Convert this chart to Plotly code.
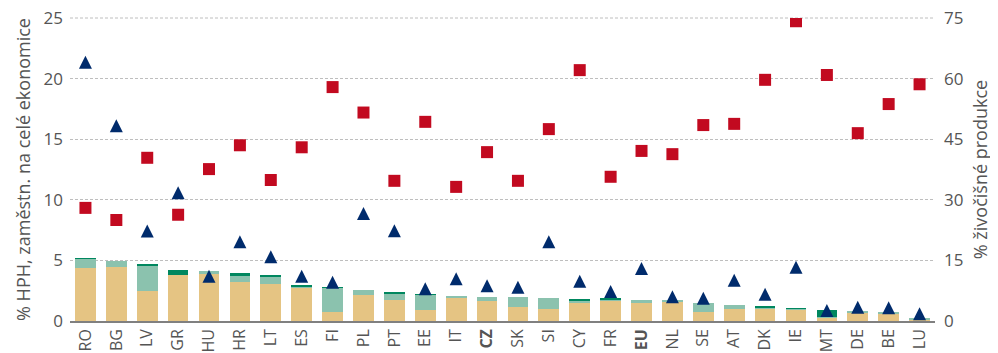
import plotly.graph_objects as go

categories = ["RO","BG","LV","GR","HU","HR","LT","ES","FI","PL","PT","EE","IT","CZ",
              "SK","SI","CY","FR","EU","NL","SE","AT","DK","IE","MT","DE","BE","LU"]
tick_labels = [f"<b>{c}</b>" if c in ("CZ", "EU") else c for c in categories]

bar_tan = [4.37,4.48,2.50,3.76,3.85,3.24,3.05,2.77,0.74,2.17,1.76,0.93,1.87,1.68,
           1.18,0.96,1.54,1.65,1.51,1.60,0.74,0.96,1.04,0.94,0.27,0.69,0.63,0.16]
bar_teal = [0.75,0.50,2.00,0.00,0.25,0.50,0.63,0.08,2.00,0.36,0.49,1.22,0.22,0.32,
            0.82,0.96,0.14,0.16,0.25,0.08,0.71,0.39,0.08,0.08,0.08,0.08,0.08,0.05]
bar_green = [0.06,0.00,0.20,0.42,0.00,0.22,0.08,0.14,0.03,0.00,0.17,0.05,0.00,0.00,
             0.00,0.00,0.10,0.03,0.00,0.00,0.00,0.00,0.08,0.03,0.58,0.00,0.00,0.00]
triangles = [21.34,16.12,7.42,10.58,3.70,6.53,5.30,3.70,3.20,8.86,7.45,2.67,3.49,2.91,
             2.78,6.54,3.27,2.44,4.34,2.00,1.87,3.36,2.20,4.43,0.87,1.13,1.10,0.60]
squares = [28.0,25.0,40.4,26.3,37.6,43.5,34.9,43.0,57.9,51.6,34.7,49.3,33.2,41.8,
           34.7,47.5,62.1,35.7,42.1,41.3,48.5,48.8,59.7,74.2,60.9,46.5,53.7,58.6]
left_ticks = [0, 5, 10, 15, 20, 25]
right_ticks = [0, 15, 30, 45, 60, 75]

FONT = "Open Sans"
TXT = "#555555"
GRID = "#BEBEBE"
# the page body adds an 8px offset, so the figure is 8px smaller than the window
W, H = 990, 345
M = dict(l=62, r=63, t=10, b=32)
plot_h = H - M["t"] - M["b"]
tri_size = 13
shift = (tri_size / 2) / (plot_h / left_ticks[-1])

fig = go.Figure()
fig.add_bar(x=categories, y=bar_tan, marker=dict(color="#E5C483", line=dict(width=0)))
fig.add_bar(x=categories, y=bar_teal, marker=dict(color="#8BC2AE", line=dict(width=0)))
fig.add_bar(x=categories, y=bar_green, marker=dict(color="#00875F", line=dict(width=0)))
fig.add_scatter(x=categories, y=squares, yaxis="y2", mode="markers",
                marker=dict(symbol="square", size=12, color="#C20A20"))
fig.add_scatter(x=categories, y=triangles, yaxis="y3", mode="markers",
                marker=dict(symbol="arrow-up", size=tri_size, color="#002B6C"))

# top gridline along the upper edge of the plot area (plotly drops edge gridlines)
fig.add_shape(type="line", xref="paper", x0=0, x1=1, yref="paper",
              y0=1, y1=1, layer="below",
              line=dict(color=GRID, width=1, dash="3px,2px"))

fig.update_layout(
    width=W, height=H, margin=M, barmode="stack", bargap=0.33, showlegend=False,
    plot_bgcolor="rgba(0,0,0,0)", paper_bgcolor="white",
    font=dict(family=FONT, size=16, color=TXT),
    xaxis=dict(tickmode="array", tickvals=categories, ticktext=tick_labels,
               range=[-0.5, len(categories) - 0.5],
               tickangle=-90, showline=True, linecolor="#808080", linewidth=1.5,
               showgrid=False, automargin=False, ticks="", ticklabelstandoff=0,
               tickfont=dict(size=16, color=TXT)),
    yaxis=dict(range=[0, 25.001], tickvals=left_ticks,
               showgrid=True, gridcolor=GRID,
               griddash="3px,2px", gridwidth=1, zeroline=False, automargin=False,
               ticklabelstandoff=6, ticklabeloverflow="allow",
               title=dict(text="% HPH, zaměstn. na celé ekonomice",
                          font=dict(size=18, color=TXT), standoff=8),
               tickfont=dict(size=17, color=TXT)),
    yaxis2=dict(range=[0, 75.003], tickvals=right_ticks, overlaying="y",
                side="right", showgrid=False, zeroline=False, automargin=False,
                ticklabelstandoff=8, ticklabeloverflow="allow",
                title=dict(text="% živočišné produkce",
                           font=dict(size=18, color=TXT), standoff=11),
                tickfont=dict(size=17, color=TXT)),
    yaxis3=dict(range=[-shift, 25 - shift], overlaying="y", visible=False),
)

fig.write_html("out.html")
